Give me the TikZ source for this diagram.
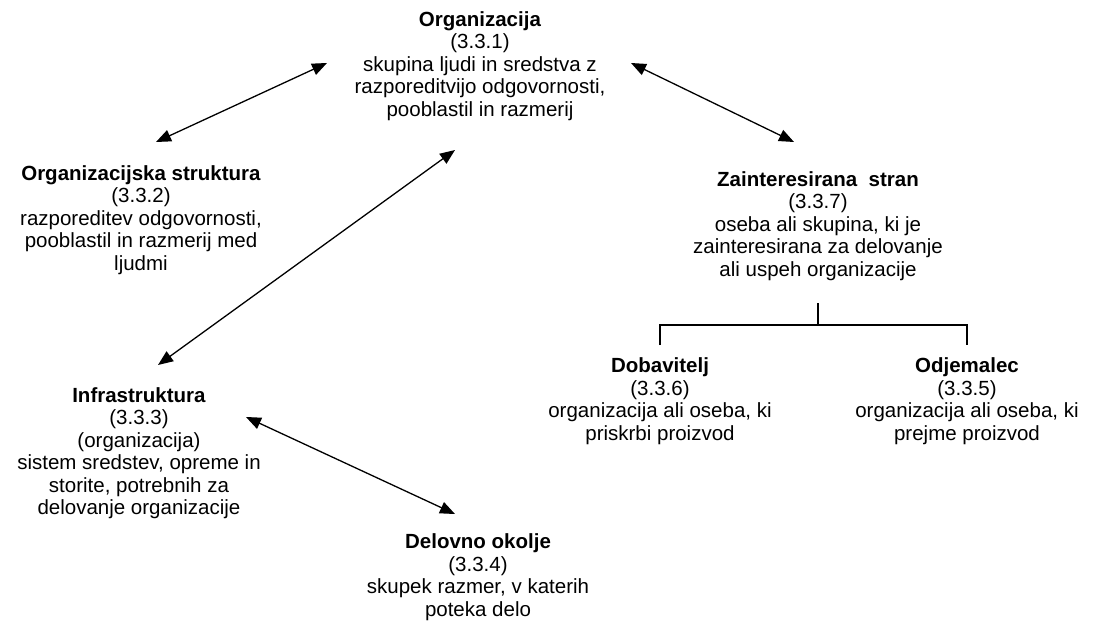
\documentclass[tikz,border=0pt]{standalone}
\usepackage{fontspec}
\setmainfont{Liberation Sans}
\usetikzlibrary{arrows.meta,calc,positioning}

\begin{document}
\begin{tikzpicture}[x=1pt, y=-1pt,
    term/.style={align=center, inner sep=0pt, font=\fontsize{20.5}{22.5}\selectfont},
    link/.style={{Triangle[length=15pt,width=12pt]}-{Triangle[length=15pt,width=12pt]}, line width=1.3pt},
    tree/.style={line width=1.4pt}
]
    \useasboundingbox[fill=white] (0,0) rectangle (1097,637);

    \node[term] (org) at (480,66) {\textbf{Organizacija}\\(3.3.1)\\skupina ljudi in sredstva z\\razporeditvijo odgovornosti,\\pooblastil in razmerij};
    \node[term] (struk) at (141,220) {\textbf{Organizacijska struktura}\\(3.3.2)\\razporeditev odgovornosti,\\pooblastil in razmerij med\\ljudmi};
    \node[term] (zain) at (818,226) {\textbf{Zainteresirana\ \ stran}\\(3.3.7)\\oseba ali skupina, ki je\\zainteresirana za delovanje\\ali uspeh organizacije};
    \node[term] (infra) at (139,453) {\textbf{Infrastruktura}\\(3.3.3)\\(organizacija)\\sistem sredstev, opreme in\\storite, potrebnih za\\delovanje organizacije};
    \node[term] (okolje) at (478,577) {\textbf{Delovno okolje}\\(3.3.4)\\skupek razmer, v katerih\\poteka delo};
    \node[term] (dob) at (660,401) {\textbf{Dobavitelj}\\(3.3.6)\\organizacija ali oseba, ki\\priskrbi proizvod};
    \node[term] (odj) at (967,401) {\textbf{Odjemalec}\\(3.3.5)\\organizacija ali oseba, ki\\prejme proizvod};

    % puscice med pojmi
    \draw[link] ($(struk.center)+(15,-78)$) -- ($(org.center)+(-153,-3)$);
    \draw[link] ($(org.center)+(151,-3)$) -- ($(zain.center)+(-24,-84)$);
    \draw[link] ($(org.center)+(-25,84)$) -- ($(infra.center)+(19,-88)$);
    \draw[link] ($(infra.center)+(107,-36)$) -- ($(okolje.center)+(-23,-63)$);

    % razvejitev
    \coordinate (split) at ($(zain.center)+(0,77)$);
    \coordinate (bar) at ($(split)+(0,22)$);
    \coordinate (barL) at (bar -| dob.center);
    \coordinate (barR) at (bar -| odj.center);
    \draw[tree] (split) -- (bar);
    \draw[tree] ($(barL)+(0,20)$) -- (barL) -- (barR) -- ($(barR)+(0,20)$);
\end{tikzpicture}
\end{document}
